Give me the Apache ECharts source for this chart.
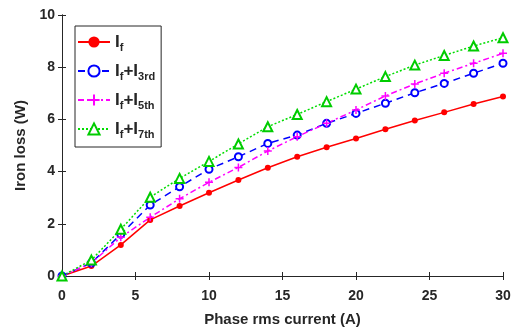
<!DOCTYPE html>
<html><head><meta charset="utf-8">
<script src="https://cdn.jsdelivr.net/npm/echarts@6/dist/echarts.min.js"></script>
<style>html,body{margin:0;padding:0;background:#fff}#c{width:521px;height:329px}</style>
</head><body><div id="c"></div>
<script>
const current = [0,2,4,6,8,10,12,14,16,18,20,22,24,26,28,30];
const lossF   = [0,0.38,1.19,2.15,2.68,3.19,3.68,4.15,4.57,4.93,5.27,5.62,5.96,6.27,6.59,6.88];
const loss3rd = [0,0.5,1.6,2.72,3.42,4.09,4.57,5.08,5.40,5.85,6.23,6.62,7.02,7.38,7.77,8.15];
const loss5th = [0,0.5,1.48,2.25,2.96,3.59,4.16,4.79,5.34,5.85,6.36,6.90,7.36,7.77,8.15,8.53];
const loss7th = [0,0.61,1.79,3.02,3.74,4.39,5.06,5.72,6.19,6.68,7.16,7.64,8.08,8.45,8.81,9.13];
const seriesNames = ['If','If+I3rd','If+I5th','If+I7th'];
const legendRich = {
  'If': '{b|I}{s|f}',
  'If+I3rd': '{b|I}{s|f}{b|+I}{s|3rd}',
  'If+I5th': '{b|I}{s|f}{b|+I}{s|5th}',
  'If+I7th': '{b|I}{s|f}{b|+I}{s|7th}'
};
const pair = a => a.map((v,i)=>[current[i], v]);
const plusPath = 'path://M0,5L10,5M5,0L5,10';
const font = 'Liberation Sans, Arial, sans-serif';
const txt = '#262626';
const chart = echarts.init(document.getElementById('c'), null, {renderer:'canvas'});
chart.setOption({
  animation:false,
  grid:{left:62,right:18,top:15,bottom:53, outerBoundsMode:'none', containLabel:false},
  legend:{
    orient:'vertical', left:75, top:26, itemGap:7, itemWidth:32, itemHeight:14,
    padding:[5,6,7,2], borderColor:'#262626', borderWidth:1, backgroundColor:'#fff',
    data: seriesNames,
    formatter: n => legendRich[n],
    textStyle:{fontFamily:font, fontWeight:'bold', color:txt,
      rich:{
        b:{fontSize:17, fontWeight:'bold', fontFamily:font, color:txt, lineHeight:21},
        s:{fontSize:11, fontWeight:'bold', fontFamily:font, color:txt, padding:[11,0,0,0], lineHeight:21}
      }}
  },
  xAxis:[{
    type:'value', min:0, max:30, interval:5,
    name:'Phase rms current (A)', nameLocation:'middle', nameGap:36,
    nameTextStyle:{fontFamily:font, fontWeight:'bold', fontSize:15, color:txt},
    axisLine:{lineStyle:{color:txt}}, axisTick:{inside:true, length:4, lineStyle:{color:txt}},
    axisLabel:{fontFamily:font, fontWeight:'bold', fontSize:14, color:txt, margin:13},
    splitLine:{show:false}
  },{
    type:'value', position:'top', min:0, max:30, interval:5,
    axisLine:{lineStyle:{color:txt}}, axisTick:{inside:true, length:4, lineStyle:{color:txt}},
    axisLabel:{show:false}, splitLine:{show:false}
  }],
  yAxis:[{
    type:'value', min:0, max:10, interval:2,
    name:'Iron loss (W)', nameLocation:'middle', nameGap:30,
    nameTextStyle:{fontFamily:font, fontWeight:'bold', fontSize:15, color:txt},
    axisLine:{show:true, lineStyle:{color:txt}}, axisTick:{show:true, inside:true, length:4, lineStyle:{color:txt}},
    axisLabel:{fontFamily:font, fontWeight:'bold', fontSize:14, color:txt, margin:7},
    splitLine:{show:false}
  },{
    type:'value', position:'right', min:0, max:10, interval:2,
    axisLine:{show:true, lineStyle:{color:txt}}, axisTick:{show:true, inside:true, length:4, lineStyle:{color:txt}},
    axisLabel:{show:false}, splitLine:{show:false}
  }],
  series:[
    {name:'If', type:'line', data:pair(lossF), symbol:'circle', symbolSize:6,
      itemStyle:{color:'#ff0000'}, lineStyle:{color:'#ff0000', width:1.5, type:'solid'}},
    {name:'If+I3rd', type:'line', data:pair(loss3rd), symbol:'emptyCircle', symbolSize:7,
      itemStyle:{color:'#0000ff', borderWidth:1}, lineStyle:{color:'#0000ff', width:1.5, type:[7,5]}},
    {name:'If+I5th', type:'line', data:pair(loss5th), symbol:plusPath, symbolSize:8,
      itemStyle:{color:'#ff00ff', borderColor:'#ff00ff', borderWidth:1.5}, lineStyle:{color:'#ff00ff', width:1.5, type:[6,3,2,3]}},
    {name:'If+I7th', type:'line', data:pair(loss7th), symbol:'emptyTriangle', symbolSize:9,
      itemStyle:{color:'#00cc00', borderWidth:1.5}, lineStyle:{color:'#00dd00', width:1.5, type:[2,2]}}
  ]
});
</script></body></html>
